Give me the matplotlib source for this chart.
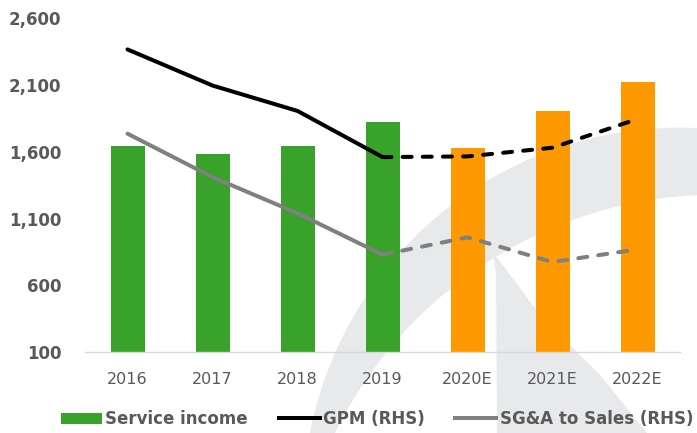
import numpy as np
import matplotlib
matplotlib.use("Agg")
import matplotlib.pyplot as plt
from matplotlib.patches import Circle, Polygon, Patch
from matplotlib.lines import Line2D
from matplotlib.transforms import IdentityTransform

plt.rcParams['lines.scale_dashes'] = False

# data (line series in RHS units, same scale as LHS)
years = ['2016', '2017', '2018', '2019', '2020E', '2021E', '2022E']
service_income = [1640, 1580, 1645, 1825, 1625, 1905, 2120]
gpm = [2365, 2095, 1905, 1560, 1565, 1630, 1845]
sga_to_sales = [1735, 1410, 1140, 830, 960, 775, 870]
n_actual = 4  # 2016-2019 are actuals, the rest estimates

GREEN = '#38A22A'
ORANGE = '#FF9900'
GRAY = '#808080'
TXT = '#595959'
WM = '#E8E9EB'

fig = plt.figure(figsize=(6.97, 4.33), dpi=100)
H = 433

# faint watermark behind the chart (pixel coords)
ident = IdentityTransform()
fig.add_artist(Circle((680.3, H - 504.8), 377.2, facecolor=WM, edgecolor='none',
                      transform=ident, zorder=-3))
fig.add_artist(Circle((717.8, H - 621.0), 426.5, facecolor='white', edgecolor='none',
                      transform=ident, zorder=-2))
sail = [(493, H - 253), (496, H - 273), (497, H - 433), (647, H - 433),
        (600, H - 375), (540, H - 315), (505, H - 268)]
fig.add_artist(Polygon(sail, closed=True, facecolor=WM, edgecolor='none',
                       transform=ident, zorder=-1))

ax = fig.add_axes([85 / 697, 1 - 352.3 / 433, 595 / 697, (352.3 - 18) / 433])
ax.set_facecolor('none')
x = np.arange(len(years))
colors = [GREEN] * n_actual + [ORANGE] * (len(years) - n_actual)
ax.bar(x, service_income, width=0.4, color=colors, zorder=2)

ax.set_xlim(-0.5, len(years) - 0.5)
ax.set_ylim(100, 2600)
ax.set_yticks([100, 600, 1100, 1600, 2100, 2600])
ax.set_yticklabels(['100', '600', '1,100', '1,600', '2,100', '2,600'],
                   fontsize=12, fontweight='bold', color=TXT)
ax.set_xticks(x)
ax.set_xticklabels(years, fontsize=11.5, color=TXT)
ax.tick_params(axis='y', length=0, pad=17)
ax.tick_params(axis='x', length=0, pad=14)
for s in ['top', 'right', 'left']:
    ax.spines[s].set_visible(False)
ax.spines['bottom'].set_color('#D9D9D9')
ax.spines['bottom'].set_linewidth(1)

ax2 = ax.twinx()
ax2.set_facecolor('none')
ax2.set_ylim(100, 2600)
ax2.set_yticks([])
for s in ax2.spines.values():
    s.set_visible(False)

dash = (0, (6.5, 8))
a = n_actual
ax2.plot(x[:a], gpm[:a], color='black', lw=2.9, solid_capstyle='round', zorder=3)
ax2.plot(x[a - 1:], gpm[a - 1:], color='black', lw=2.9, ls=dash,
         dash_capstyle='round', zorder=3)
ax2.plot(x[:a], sga_to_sales[:a], color=GRAY, lw=2.9, solid_capstyle='round', zorder=3)
ax2.plot(x[a - 1:], sga_to_sales[a - 1:], color=GRAY, lw=2.9, ls=dash,
         dash_capstyle='round', zorder=3)

handles = [Patch(facecolor=GREEN, edgecolor='none'),
           Line2D([0], [0], color='black', lw=2.9),
           Line2D([0], [0], color=GRAY, lw=2.9)]
labels = ['Service income', 'GPM (RHS)', 'SG&A to Sales (RHS)']
fig.legend(handles, labels, loc='center', bbox_to_anchor=(0.541, 0.032), ncol=3,
           frameon=False, handlelength=2.45, handleheight=0.65, handletextpad=0.2,
           columnspacing=1.85, prop={'size': 12, 'weight': 'bold'},
           labelcolor=TXT)

fig.savefig('out.png', dpi=100)
